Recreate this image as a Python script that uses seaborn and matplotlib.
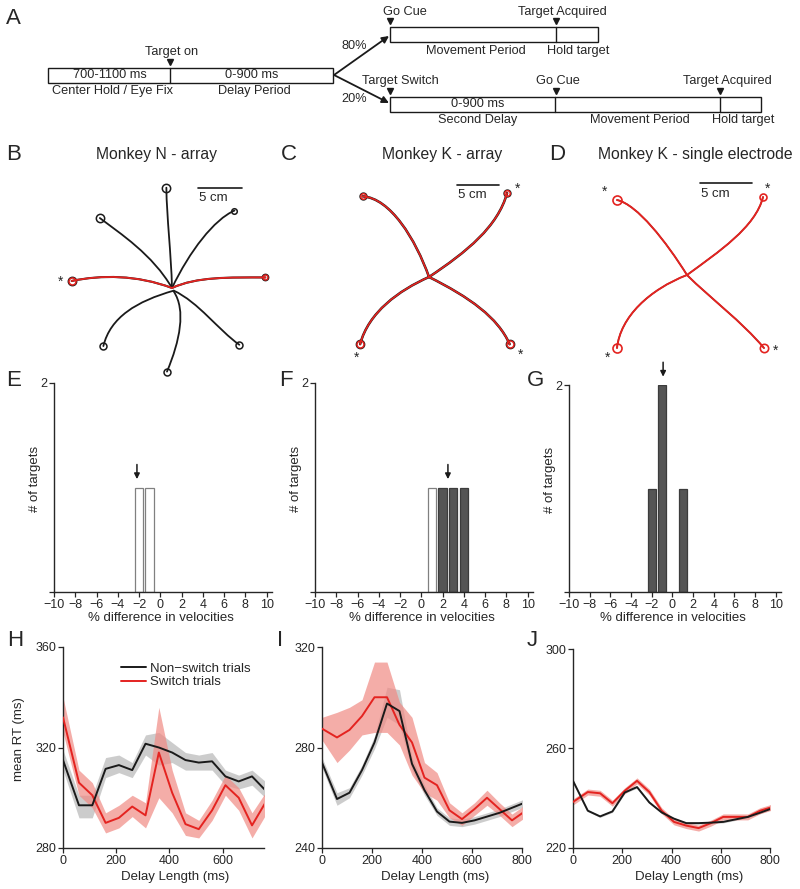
import matplotlib
matplotlib.use("Agg")
import matplotlib.pyplot as plt
from matplotlib.patches import Rectangle, PathPatch
from matplotlib.path import Path
import seaborn as sns

# ---------------- data ----------------
# B-D: reach paths in cm from the start point, as bezier (start, handle, handle, end)
b_paths = [
    [(0, 0), (-0.1, 4.0), (-0.6, 8.0), (-0.64, 11.4)],
    [(0, 0), (-2.2, 3.8), (-5.9, 6.2), (-8.2, 7.95)],
    [(0, 0), (2.0, 4.2), (4.8, 7.8), (7.1, 8.8)],
    [(0, 0), (-4.0, 1.5), (-8.0, 1.5), (-11.4, 0.8)],
    [(0, 0), (2.8, 1.3), (6.5, 1.2), (10.6, 1.2)],
    [(0.2, -0.3), (-4.0, -1.5), (-7.0, -3.3), (-7.8, -6.6)],
    [(0.2, -0.3), (3.0, -1.6), (5.3, -4.8), (7.65, -6.45)],
    [(0.2, -0.4), (1.6, -2.5), (0.9, -6.0), (-0.57, -9.5)],
]
b_switch = [False, False, False, True, True, False, False, False]
b_circle = [6, 6, 4, 6, 4.5, 5, 5, 5]
b_stars = [(-12.7, 0.7)]

c_paths = [
    [(0, 0), (4.5, 3.0), (8.2, 6.0), (9.3, 10.0)],
    [(0, 0), (4.8, -2.4), (8.2, -4.8), (9.6, -8.0)],
    [(0, 0), (-1.6, 4.5), (-4.6, 9.4), (-7.9, 9.6)],
    [(0, 0), (-3.6, -1.6), (-7.2, -4.2), (-8.2, -8.0)],
]
c_circle = [5, 6, 5, 6]
c_stars = [(10.5, 10.5), (10.95, -9.3), (-8.6, -9.6)]

d_paths = [
    [(0, 0), (-2.0, 3.2), (-4.8, 6.8), (-6.73, 7.21)],
    [(0, 0), (3.0, 2.2), (6.6, 4.6), (7.31, 7.5)],
    [(0, 0), (-3.6, -1.4), (-6.4, -4.0), (-6.73, -7.02)],
    [(0, 0), (2.2, -2.2), (5.3, -4.5), (7.4, -7.02)],
]
d_circle = [6.5, 5, 6.5, 6]
d_stars = [(-7.9, 8.0), (7.7, 8.3), (-7.6, -8.0), (8.5, -7.3)]

# E-G: histograms of % velocity difference
e_bins = [-2, -1]
e_counts = [1, 1]
e_dark = [False, False]
e_mean = -2.2

f_bins = [1, 2, 3, 4]
f_counts = [1, 1, 1, 1]
f_dark = [False, True, True, True]
f_mean = 2.5

g_bins = [-2, -1, 1]
g_counts = [1, 2, 1]
g_dark = [True, True, True]
g_mean = -0.9

# H-J: mean RT vs delay length
delay = [0, 60, 110, 160, 210, 260, 310, 360, 410, 460, 510, 560, 610, 660, 710, 760, 810]

h_black = [315, 297, 297, 311.5, 313, 311, 321.5, 320, 318, 315, 314, 314.5, 308.5, 306.5, 308.5, 303, 301]
h_black_lo = [311, 292, 292, 308, 310, 308, 317, 313, 314, 311, 311, 311, 305, 303.5, 305, 300, 298]
h_black_hi = [319, 301, 301, 316, 317, 314, 325, 326, 322, 318, 317, 318, 311, 309, 311, 306.5, 304]
h_red = [332, 306, 301, 290, 292, 296.5, 293, 318, 302, 289.5, 287.5, 295, 305, 300, 289, 298, 300]
h_red_lo = [326, 301, 296, 286, 288, 292.5, 288, 300, 294, 285, 284, 291, 301, 295, 284, 293, 295]
h_red_hi = [340, 311, 306, 294, 297, 301, 298, 336, 311, 294, 291, 299, 309, 304, 294, 302, 304]

i_black = [274, 259.5, 262, 271, 282, 297.5, 294.5, 273.5, 263, 254.5, 250.5, 250, 251, 252.5, 254, 256, 258]
i_black_lo = [272, 257, 260, 269, 279.5, 292, 289, 271, 261, 253, 249, 248.5, 249.5, 251, 252.5, 254.5, 256.5]
i_black_hi = [276, 262, 264, 273, 284.5, 304, 303, 276, 265, 256, 252, 251.5, 252.5, 254, 255.5, 257.5, 259.5]
i_red = [287.5, 284, 287, 292.5, 300, 300, 289, 282, 268, 265, 255, 251.5, 255.5, 260, 255.5, 251, 254.5]
i_red_lo = [283, 274, 279, 285, 286, 286, 281, 269, 262, 259, 252, 249, 253, 257, 253, 248.5, 252]
i_red_hi = [292, 294, 296, 299, 314, 314, 298, 292, 274, 270, 258, 254, 258, 263, 258, 253.5, 257]

j_black = [247, 235, 232.7, 234.7, 242.3, 244.5, 238.3, 234.3, 231.8, 230, 230, 230.2, 230.5, 231.5, 232.5, 234.2, 236]
j_black_lo = [246.6, 234.6, 232.3, 234.3, 241.9, 244.1, 237.9, 233.9, 231.4, 229.6, 229.6, 229.8, 230.1, 231.1, 232.1, 233.8, 235.6]
j_black_hi = [247.4, 235.4, 233.1, 235.1, 242.7, 244.9, 238.7, 234.7, 232.2, 230.4, 230.4, 230.6, 230.9, 231.9, 232.9, 234.6, 236.4]
j_red = [238.5, 242.5, 242, 238, 243, 247, 242.5, 235, 230.5, 229, 228, 230, 232.5, 232.5, 232.5, 235, 236.5]
j_red_lo = [237.3, 241.3, 240.8, 236.8, 241.8, 245.8, 241.3, 233.8, 229.3, 227.8, 226.8, 228.8, 231.3, 231.3, 231.3, 233.8, 235.3]
j_red_hi = [239.7, 243.7, 243.2, 239.2, 244.2, 248.2, 243.7, 236.2, 231.7, 230.2, 229.2, 231.2, 233.7, 233.7, 233.7, 236.2, 237.7]

# ---------------- style ----------------
sns.set_theme(style="ticks")
plt.rcParams['font.family'] = ['Liberation Sans', 'DejaVu Sans']
plt.rcParams['axes.linewidth'] = 1.0
plt.rcParams['xtick.major.width'] = 0.9
plt.rcParams['ytick.major.width'] = 0.9
plt.rcParams['xtick.major.size'] = 3.5
plt.rcParams['ytick.major.size'] = 3.5
plt.rcParams['xtick.major.pad'] = 1.5
plt.rcParams['ytick.major.pad'] = 1.5
plt.rcParams['xtick.labelsize'] = 9
plt.rcParams['ytick.labelsize'] = 9
plt.rcParams['axes.labelsize'] = 9.5

RED = '#e42320'
RED_BAND = '#f08a84'
GRAY_BAND = '#c4c4c4'
DARK_BAR = '#555555'

FW, FH = 800, 889
fig = plt.figure(figsize=(8, 8.89), dpi=100)


def px_axes(l, t, r, b):
    return fig.add_axes([l / FW, 1 - b / FH, (r - l) / FW, (b - t) / FH])


def fig_text(x, y, s, **kw):
    fig.text(x / FW, 1 - y / FH, s, **kw)


# ---------------- A: task timeline ----------------
ax = px_axes(0, 0, 800, 135)
ax.set_xlim(0, 800)
ax.set_ylim(135, 0)
ax.axis('off')
for x0, y0, w in [(48, 68, 285), (390, 27, 208), (390, 97, 371)]:
    ax.add_patch(Rectangle((x0, y0), w, 15, fc='white', ec='k', lw=1.0))
for x0, y0 in [(170, 68), (556, 27), (555, 97), (720, 97)]:
    ax.plot([x0, x0], [y0, y0 + 15], color='k', lw=1.0)
for x0, y0 in [(170, 62), (390, 21), (556, 21), (390, 91), (556, 91), (720, 91)]:
    ax.plot(x0, y0, 'v', color='k', ms=5)
a_texts = [
    ("Target on", 172, 52), ("700-1100 ms", 110, 75), ("0-900 ms", 252, 75),
    ("Center Hold / Eye Fix", 112, 91), ("Delay Period", 254, 91),
    ("Go Cue", 405, 12), ("Target Acquired", 562, 12),
    ("Movement Period", 476, 51), ("Hold target", 578, 51),
    ("80%", 354, 46), ("20%", 354, 99),
    ("Target Switch", 400, 81), ("Go Cue", 558, 81), ("Target Acquired", 727, 81),
    ("0-900 ms", 478, 104), ("Second Delay", 478, 120),
    ("Movement Period", 640, 120), ("Hold target", 743, 120),
]
for s, x0, y0 in a_texts:
    ax.text(x0, y0, s, ha='center', va='center', fontsize=9.2)
for ty in [36, 103]:
    ax.annotate('', xy=(389, ty), xytext=(334, 75),
                arrowprops=dict(arrowstyle='-|>', lw=1.3, color='k',
                                mutation_scale=10, shrinkA=0, shrinkB=0))


# ---------------- B-D: trajectories ----------------
def traj_axes(l, t, r, b, cx, cy, ppc):
    a = px_axes(l, t, r, b)
    a.set_xlim((l - cx) / ppc, (r - cx) / ppc)
    a.set_ylim((cy - b) / ppc, (cy - t) / ppc)
    a.axis('off')
    return a


def draw_path(a, pts, color, lw, z):
    codes = [Path.MOVETO, Path.CURVE4, Path.CURVE4, Path.CURVE4]
    a.add_patch(PathPatch(Path(pts, codes), fc='none', ec=color, lw=lw,
                          zorder=z, capstyle='round'))


def scale_bar(a, x0, y0):
    a.plot([x0, x0 + 5], [y0, y0], color='k', lw=1.2)
    a.text(x0 + 0.1, y0 - 0.45, "5 cm", ha='left', va='top', fontsize=9.5)


axb = traj_axes(30, 165, 295, 385, 172, 288, 8.8)
for pts, sw, ms in zip(b_paths, b_switch, b_circle):
    draw_path(axb, pts, 'k', 1.5 if sw else 1.3, 2)
    axb.plot(*pts[-1], 'o', mfc='none', mec='k', ms=ms, mew=1.1, zorder=3)
    if sw:
        draw_path(axb, pts, RED, 1.3, 4)
        axb.plot(*pts[-1], 'o', mfc='none', mec=RED, ms=ms - 1, mew=1.1, zorder=5)
for sx, sy in b_stars:
    axb.text(sx, sy, '*', ha='center', va='center', fontsize=10)
scale_bar(axb, 2.95, 11.36)

axc = traj_axes(300, 165, 548, 385, 429, 277, 8.4)
for pts, ms in zip(c_paths, c_circle):
    draw_path(axc, pts, 'k', 1.8, 2)
    draw_path(axc, pts, RED, 1.2, 4)
    axc.plot(*pts[-1], 'o', mfc='none', mec='k', ms=ms, mew=1.0, zorder=3)
    axc.plot(*pts[-1], 'o', mfc='none', mec=RED, ms=ms - 1, mew=1.1, zorder=5)
for sx, sy in c_stars:
    axc.text(sx, sy, '*', ha='center', va='center', fontsize=10)
scale_bar(axc, 3.33, 10.95)

axd = traj_axes(560, 165, 800, 385, 687, 275, 10.4)
for pts, ms in zip(d_paths, d_circle):
    draw_path(axd, pts, 'k', 1.0, 2)
    draw_path(axd, pts, RED, 1.4, 4)
    axd.plot(*pts[-1], 'o', mfc='none', mec=RED, ms=ms, mew=1.2, zorder=5)
for sx, sy in d_stars:
    axd.text(sx, sy, '*', ha='center', va='center', fontsize=10)
scale_bar(axd, 1.25, 8.85)


# ---------------- E-G: histograms ----------------
def hist_panel(l, t, r, b, bins, counts, dark, mean, ylab_x):
    a = px_axes(l, t, r, b)
    fills = [DARK_BAR if d else 'white' for d in dark]
    edges = ['#3c3c3c' if d else '#808080' for d in dark]
    a.bar(bins, counts, width=0.8, color=fills, edgecolor=edges, lw=0.9)
    a.set_xlim(-10, 10.5)
    a.set_ylim(0, 2)
    a.set_xticks(range(-10, 11, 2))
    a.set_yticks([0, 2])
    a.set_yticklabels(['', '2'])
    sns.despine(ax=a)
    top = max(c for x, c in zip(bins, counts) if abs(x - mean) < 0.8)
    a.annotate('', xy=(mean, top + 0.08), xytext=(mean, top + 0.22),
               arrowprops=dict(arrowstyle='-|>', lw=1.1, color='k',
                               mutation_scale=8, shrinkA=0, shrinkB=0),
               annotation_clip=False)
    a.set_ylabel('# of targets')
    a.yaxis.set_label_coords(ylab_x, 0.54)
    a.set_xlabel('% difference in velocities')
    a.xaxis.set_label_coords(0.49, -0.095)
    return a


hist_panel(54, 383, 272, 592, e_bins, e_counts, e_dark, e_mean, -0.06)
hist_panel(315, 383, 533, 592, f_bins, f_counts, f_dark, f_mean, -0.06)
hist_panel(569, 385, 781, 592, g_bins, g_counts, g_dark, g_mean, -0.06)


# ---------------- H-J: RT vs delay ----------------
def rt_panel(l, t, r, b, xmax, ylim, black, blo, bhi, red, rlo, rhi, xl_x, legend=False):
    a = px_axes(l, t, r, b)
    a.fill_between(delay, blo, bhi, color=GRAY_BAND, alpha=0.85, lw=0, zorder=1)
    a.fill_between(delay, rlo, rhi, color=RED_BAND, alpha=0.7, lw=0, zorder=2)
    sns.lineplot(x=delay, y=black, color='k', lw=1.4, ax=a, zorder=4,
                 label='Non\u2212switch trials' if legend else None)
    sns.lineplot(x=delay, y=red, color=RED, lw=1.4, ax=a, zorder=3,
                 label='Switch trials' if legend else None)
    a.set_xlim(0, xmax)
    a.set_ylim(*ylim)
    a.set_yticks([ylim[0], (ylim[0] + ylim[1]) / 2, ylim[1]])
    a.set_xticks(range(0, xmax + 1, 200))
    sns.despine(ax=a)
    a.set_xlabel('Delay Length (ms)')
    a.xaxis.set_label_coords(xl_x, -0.115)
    if legend:
        a.legend(loc='upper left', bbox_to_anchor=(0.26, 0.95), frameon=False,
                 fontsize=9.5, handlelength=1.9, handletextpad=0.3,
                 borderaxespad=0, labelspacing=0.1)
    else:
        leg = a.get_legend()
        if leg is not None:
            leg.remove()
    return a


axh = rt_panel(63, 647, 264, 848, 755, (280, 360), h_black, h_black_lo, h_black_hi,
               h_red, h_red_lo, h_red_hi, 0.557, legend=True)
axh.set_xticks([0, 200, 400, 600])
axh.set_ylabel('mean RT (ms)')
axh.yaxis.set_label_coords(-0.19, 0.54)
rt_panel(322, 647, 522, 848, 800, (240, 320), i_black, i_black_lo, i_black_hi,
         i_red, i_red_lo, i_red_hi, 0.565)
rt_panel(573, 649, 770, 848, 800, (220, 300), j_black, j_black_lo, j_black_hi,
         j_red, j_red_lo, j_red_hi, 0.59)

# ---------------- panel letters and titles ----------------
for s, x0, y0 in [("A", 13, 18), ("B", 14, 155), ("C", 289, 155), ("D", 557, 155),
                  ("E", 14, 381), ("F", 286, 381), ("G", 535, 381),
                  ("H", 15, 640), ("I", 280, 640), ("J", 532, 641)]:
    fig_text(x0, y0, s, ha='center', va='center', fontsize=16)
for s, x0 in [("Monkey N - array", 157), ("Monkey K - array", 442),
              ("Monkey K - single electrode", 695)]:
    fig_text(x0, 155, s, ha='center', va='center', fontsize=11.3)

fig.savefig('out.png', dpi=100)
